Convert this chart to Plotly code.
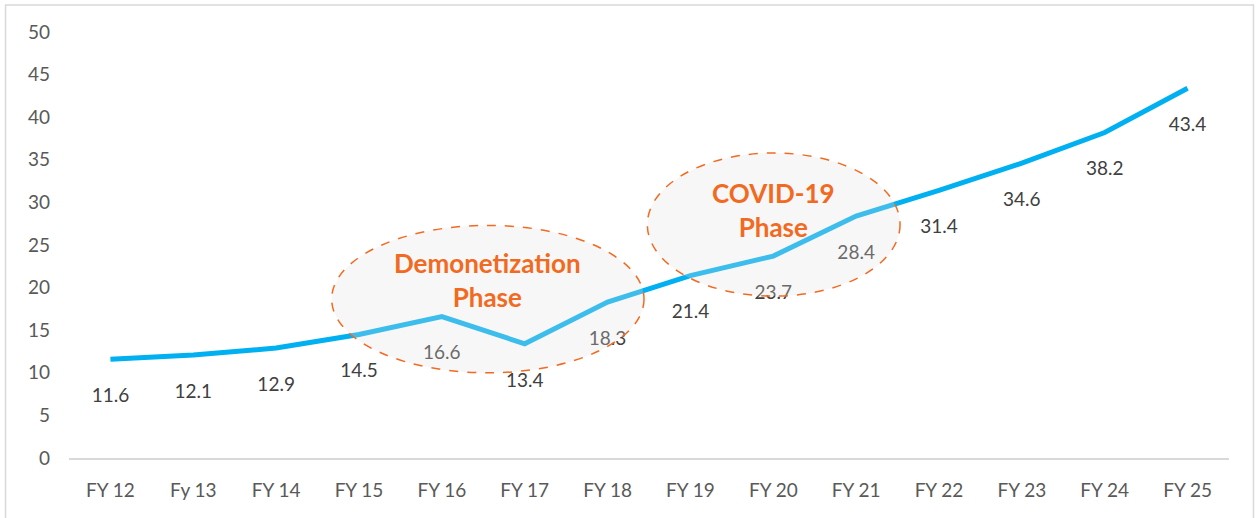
import plotly.graph_objects as go

years = ["FY 12", "Fy 13", "FY 14", "FY 15", "FY 16", "FY 17", "FY 18",
         "FY 19", "FY 20", "FY 21", "FY 22", "FY 23", "FY 24", "FY 25"]
values = [11.6, 12.1, 12.9, 14.5, 16.6, 13.4, 18.3,
          21.4, 23.7, 28.4, 31.4, 34.6, 38.2, 43.4]

phase_names = ["Demonetization<br>Phase", "COVID-19<br>Phase"]
phase_x = [(2.67, 6.44), (6.48, 9.53)]
phase_y = [(10.0, 27.3), (19.0, 35.8)]
phase_label_x = [4.55, 8.0]
phase_label_y = [20.9, 29.1]

orange = "#F26A21"
font = "Lato, 'Open Sans', sans-serif"

fig = go.Figure()

fig.add_trace(go.Scatter(
    x=years, y=values, mode="lines",
    line=dict(color="#00B0F0", width=5),
    hoverinfo="skip"))

# labels sit below the points; invisible markers push the text down
fig.add_trace(go.Scatter(
    x=years, y=values, mode="markers+text",
    text=[f"{v:.1f}" for v in values],
    textposition="bottom center",
    textfont=dict(size=19, color="#404040", family=font),
    marker=dict(size=44, color="rgba(0,0,0,0)"),
    hoverinfo="skip"))

for i, name in enumerate(phase_names):
    (x0, x1), (y0, y1) = phase_x[i], phase_y[i]
    fig.add_shape(type="circle", xref="x", yref="y",
                  x0=x0, x1=x1, y0=y0, y1=y1, layer="above",
                  fillcolor="rgba(225,225,225,0.27)",
                  line=dict(color=orange, width=1.5, dash="dash"))
    fig.add_annotation(x=phase_label_x[i], y=phase_label_y[i],
                       text=f"<b>{name}</b>", showarrow=False,
                       font=dict(size=26, color=orange, family=font))

# outer frame
fig.add_shape(type="rect", xref="paper", yref="paper",
              x0=-0.0547, x1=1.0211, y0=-0.145, y1=1.0634,
              line=dict(color="#d9d9d9", width=1.5), layer="below")

fig.update_xaxes(range=[-0.5, 13.5], showgrid=False, zeroline=False,
                 showline=True, linecolor="#d9d9d9", linewidth=1.5,
                 ticks="", ticklabelstandoff=14, automargin=False,
                 tickfont=dict(size=19, color="#595959", family=font))
fig.update_yaxes(range=[0, 50], dtick=5, showgrid=False, zeroline=False,
                 showline=False, ticks="", ticklabelstandoff=18,
                 automargin=False,
                 tickfont=dict(size=19, color="#595959", family=font))

fig.update_layout(width=1259, height=518, showlegend=False,
                  plot_bgcolor="white", paper_bgcolor="white",
                  margin=dict(l=68.5, r=29.5, t=32, b=60))

fig.write_html("out.html", config={"displayModeBar": False},
               post_script="document.body.style.margin='0';"
                           "document.body.style.overflow='hidden';")
